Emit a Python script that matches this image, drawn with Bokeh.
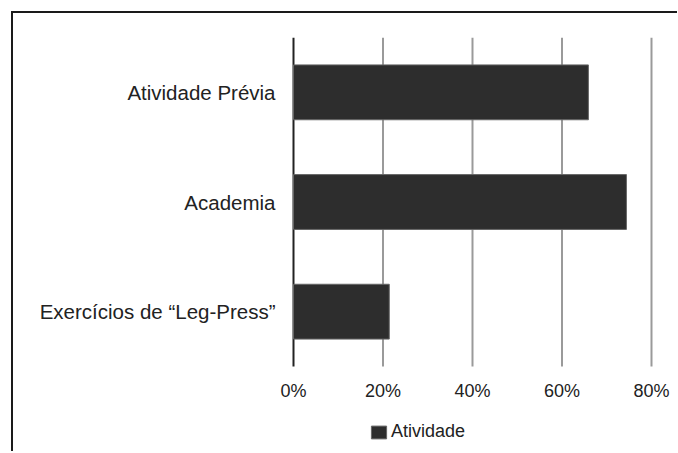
from bokeh.plotting import figure
from bokeh.models import Range1d, Legend, LegendItem
from bokeh.core.properties import value
from bokeh.embed import file_html
from bokeh.resources import INLINE

categories = ["Exercícios de “Leg-Press”", "Academia", "Atividade Prévia"]
values = [0.214, 0.744, 0.659]
ticks = [0, 0.2, 0.4, 0.6, 0.8]
tick_labels = ["0%", "20%", "40%", "60%", "80%"]
series_name = "Atividade"

FONT = "Liberation Sans"

ypos = list(range(len(categories)))
y_lo = -0.5
y_hi = len(categories) - 0.5
label_y = y_lo - 0.22
cat_label_x = -0.0402

p = figure(x_range=Range1d(-0.6123, 0.8447), y_range=Range1d(-1.275, y_hi),
           frame_width=652, frame_height=414,
           min_border_left=6, min_border_top=24, min_border_right=6, min_border_bottom=0,
           x_axis_location=None, y_axis_location=None,
           output_backend="svg", toolbar_location=None)
p.styles = {"margin": "11px 0 0 11px", "border-top": "2px solid #1a1a1a",
            "border-left": "2px solid #1a1a1a"}

p.outline_line_color = None
p.grid.visible = False

# gridlines and axis line
p.segment(x0=ticks[1:], y0=[y_lo] * 4, x1=ticks[1:], y1=[y_hi] * 4,
          line_color="#9a9a9a", line_width=2)
p.segment(x0=[ticks[0]], y0=[y_lo], x1=[ticks[0]], y1=[y_hi],
          line_color="#222222", line_width=2)

r = p.hbar(y=ypos, right=values, height=0.5, left=0,
           fill_color="#2d2d2d", line_color="#666666", line_width=1)

# x tick labels
p.text(x=ticks, y=[label_y] * len(ticks), text=tick_labels,
       text_font=value(FONT), text_font_size="18px", text_color="#222222",
       text_align="center", text_baseline="middle")

# category labels
p.text(x=[cat_label_x] * len(categories), y=ypos, text=categories,
       text_font=value(FONT), text_font_size="20.5px", text_color="#222222",
       text_align="right", text_baseline="middle")

legend = Legend(items=[LegendItem(label=series_name, renderers=[r])],
                location=(350, 9), orientation="horizontal",
                glyph_width=19, glyph_height=16, label_standoff=3,
                label_text_font=FONT, label_text_font_size="18px", label_text_color="#222222",
                padding=0, margin=0, spacing=0,
                border_line_color=None, background_fill_alpha=0)
p.add_layout(legend, "center")

open("out.html", "w").write(file_html(p, INLINE))
